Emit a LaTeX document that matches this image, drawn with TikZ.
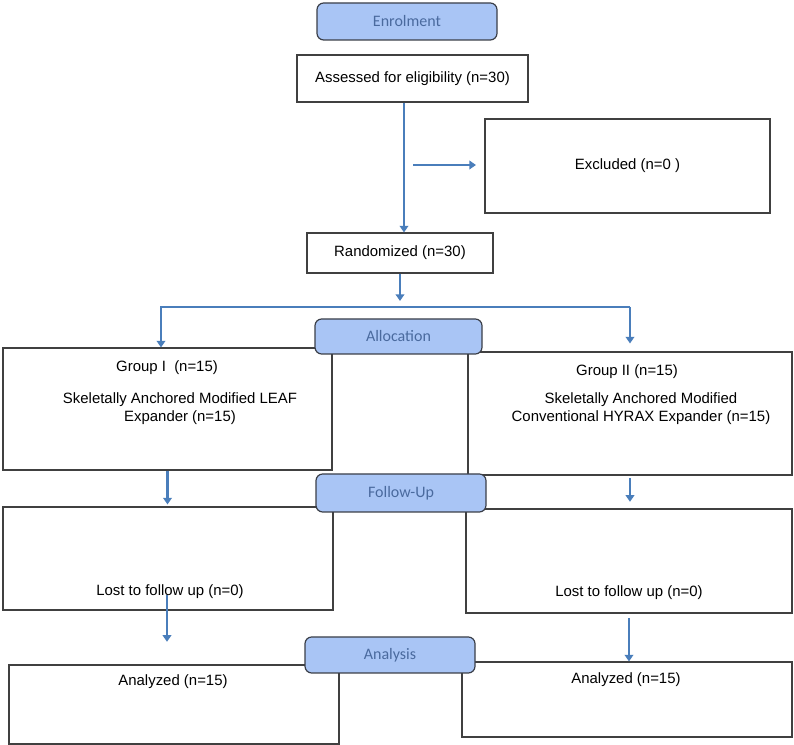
\documentclass[tikz,border=0pt]{standalone}
\usepackage{fontspec}
\setmainfont{Liberation Sans}
\newfontfamily\stagefont{Carlito}
\usetikzlibrary{arrows.meta}
\definecolor{stagefill}{HTML}{A9C5F5}
\definecolor{stagetext}{HTML}{4A6A9E}
\definecolor{stageline}{HTML}{3B3F48}
\definecolor{flowblue}{HTML}{4A7EBB}
\definecolor{boxline}{HTML}{404040}

\begin{document}
\begin{tikzpicture}[x=0.75pt,y=-0.75pt]
    \tikzstyle{dedge} = [line width=2pt,-{Triangle[length=5pt,width=6.5pt]},draw=flowblue]
    \tikzstyle{flowbox}=[
      draw=boxline,
      line width=0.8pt,
      fill=white,
      inner sep=0pt,
      font=\fontsize{11.2}{13.5}\selectfont,
    ]
    \tikzstyle{stagebox}=[
      draw=stageline,
      line width=0.9pt,
      rounded corners=5pt,
      fill=stagefill,
      text=stagetext,
      inner sep=0pt,
      font=\stagefont\fontsize{12}{14}\selectfont,
    ]
    \tikzstyle{txt}=[inner sep=0pt,align=center,font=\fontsize{11.2}{13.5}\selectfont]

    \useasboundingbox (0,0) rectangle (794,745);

    % boxes
    \node[flowbox,minimum width=173.25pt,minimum height=35.25pt] (assess) at (412.5,78.5) {Assessed for eligibility (n=30)};
    \node[flowbox,minimum width=213.75pt,minimum height=70.5pt] (excl) at (627.5,166) {Excluded (n=0 )};
    \node[flowbox,minimum width=139.5pt,minimum height=30pt] (rand) at (400,253) {Randomized (n=30)};
    \node[flowbox,minimum width=246.75pt,minimum height=91.5pt] (g1) at (167.5,409) {};
    \node[flowbox,minimum width=243pt,minimum height=92.25pt] (g2) at (630,413.5) {};
    \node[flowbox,minimum width=247.5pt,minimum height=77.25pt] (lost1) at (168,558.5) {};
    \node[flowbox,minimum width=244.5pt,minimum height=78pt] (lost2) at (629,561) {};
    \node[flowbox,minimum width=247.5pt,minimum height=59.25pt] (an1) at (174,704.5) {};
    \node[flowbox,minimum width=247.5pt,minimum height=56.25pt] (an2) at (627,699.5) {};

    % texts
    \node[txt] (g1a) at (167,368) {Group I\ \ (n=15)};
    \node[txt] (g1b) at (180,409) {Skeletally Anchored Modified LEAF\\Expander (n=15)};
    \node[txt] (g2a) at (627,372) {Group II (n=15)};
    \node[txt] (g2b) at (641,409) {Skeletally Anchored Modified\\Conventional HYRAX Expander (n=15)};
    \node[txt] (lost1t) at (170,592) {Lost to follow up (n=0)};
    \node[txt] (lost2t) at (629,593) {Lost to follow up (n=0)};
    \node[txt] (an1t) at (173,682) {Analyzed (n=15)};
    \node[txt] (an2t) at (626,680) {Analyzed (n=15)};

    % stages
    \node[stagebox,minimum width=135pt,minimum height=27.75pt] (enrol) at (407,21.5) {Enrolment};
    \node[stagebox,minimum width=125.25pt,minimum height=26.25pt] (alloc) at (398.5,336.5) {Allocation};
    \node[stagebox,minimum width=127.5pt,minimum height=28.5pt] (follow) at (401,493) {Follow-Up};
    \node[stagebox,minimum width=127.5pt,minimum height=27pt] (analysis) at (390,655) {Analysis};

    \coordinate (split) at (404,165);
    \coordinate (exA) at (413,165);
    \coordinate (exB) at (476,165);
    \coordinate (fork) at (400,301);
    \coordinate (brL) at (161,307);
    \coordinate (brR) at (630,307);
    \coordinate (dropL) at (167,595);
    \coordinate (dropR) at (629,618);

    \draw[dedge] (assess.south -| split) -- (split |- rand.north);
    \draw[dedge] (exA) -- (exB);
    \draw[dedge] (rand.south) -- (fork);
    \draw[dedge] (brR) -- (brL) -- (brL |- g1.north);
    \draw[dedge] (brR) -- ([yshift=6pt]brR |- g2.north);
    \draw[dedge] (g1.south) -- ([yshift=1.5pt]g1.south |- lost1.north);
    \draw[dedge] ([yshift=-2pt]g2.south) -- ([yshift=5pt]g2.south |- lost2.north);
    \draw[dedge] (dropL) -- ([yshift=17pt]dropL |- an1.north);
    \draw[dedge] (dropR) -- (dropR |- an2.north);
\end{tikzpicture}
\end{document}
